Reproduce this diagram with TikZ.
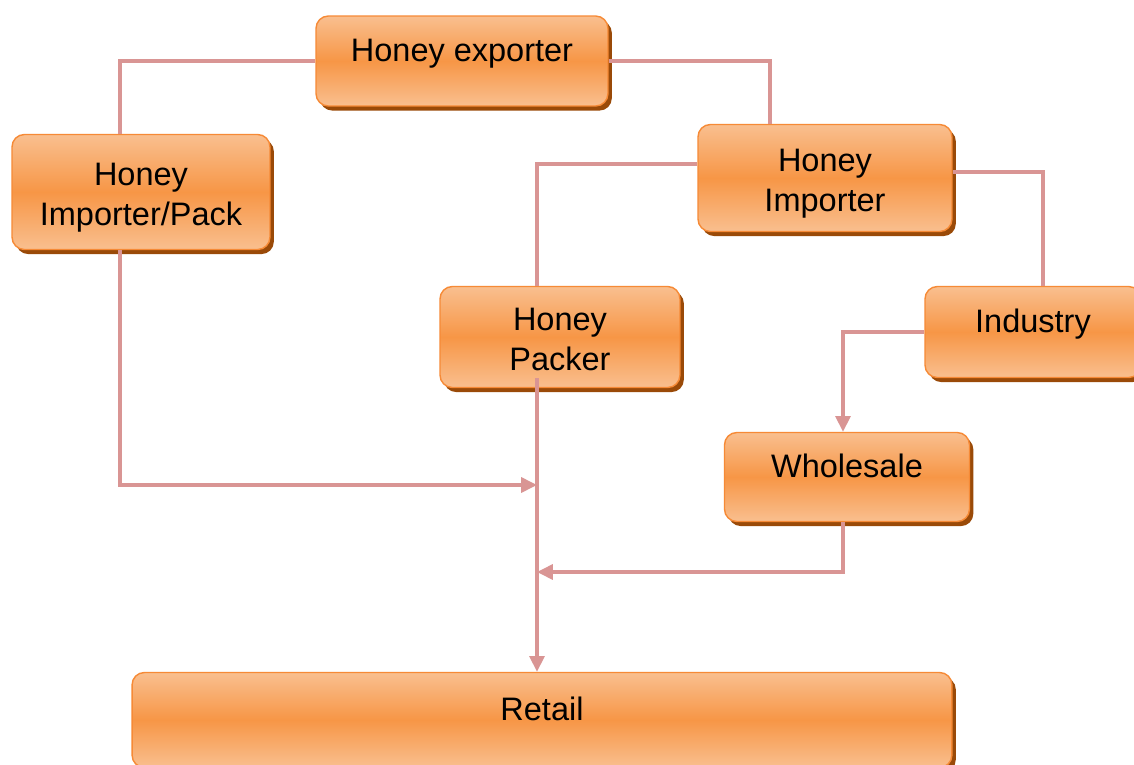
\documentclass[tikz,border=0pt]{standalone}
\usepackage{fontspec}
\setmainfont{Liberation Sans}
\usetikzlibrary{calc}
\usetikzlibrary{shadows}
\usetikzlibrary{arrows.meta}
\definecolor{hnyLight}{HTML}{F9BF8F}
\definecolor{hnyMid}{HTML}{F79646}
\definecolor{hnyEdge}{HTML}{F68A36}
\definecolor{hnyShade}{HTML}{9A4A08}
\definecolor{hnyLink}{HTML}{D99594}

\begin{document}
\begin{tikzpicture}[x=0.02cm, y=-0.02cm,
  stage/.style={draw=hnyEdge, line width=0.8pt, rounded corners=7pt,
    top color=hnyLight, bottom color=hnyLight, middle color=hnyMid,
    drop shadow={fill=hnyShade, opacity=1, shadow xshift=2.2pt, shadow yshift=-2.6pt},
    align=center, inner sep=0pt, font=\fontsize{18.5}{22.5}\selectfont},
  oneline/.style={text height=13pt, text depth=12pt},
  twoline/.style={text height=37.9pt, text depth=0pt},
  link/.style={draw=hnyLink, line width=1.9pt},
  flow/.style={link, -{Triangle[length=9pt, width=8.5pt]}}]
%\draw [help lines] (0,0) grid[step=50] (1134,765);
\fill[white] (0,0) rectangle (1134,765);
\useasboundingbox (0,0) rectangle (1134,765);
\clip (0,0) rectangle (1134,765);

\node[stage, oneline, minimum width=5.84cm, minimum height=1.8cm]  (exp)     at (462,61)  {Honey exporter};
\node[stage, twoline, minimum width=5.16cm, minimum height=2.3cm]  (imppack) at (141,192) {Honey\\Importer/Pack};
\node[stage, twoline, minimum width=5.08cm, minimum height=2.14cm] (imp)     at (825,178) {Honey\\Importer};
\node[stage, twoline, minimum width=4.8cm,  minimum height=2.02cm] (packer)  at (560,337) {Honey\\Packer};
\node[stage, oneline, minimum width=4.32cm, minimum height=1.82cm] (ind)     at (1033,332) {Industry};
\node[stage, oneline, minimum width=4.9cm,  minimum height=1.78cm] (whole)   at (847,477) {Wholesale};
\node[stage, oneline, minimum width=16.4cm, minimum height=1.9cm]  (retail)  at (542,720) {Retail};

\coordinate (meetA) at (537,485);
\coordinate (meetB) at (537,572);

% Edges
\draw[link] (exp.west) -| ($(imppack.north)+(-21,0)$);
\draw[link] (exp.east) -| ($(imp.north)+(-55,0)$);
\draw[link] ($(imp.west)+(0,-14)$) -| ($(packer.north)+(-23,0)$);
\draw[link] ($(imp.east)+(0,-6)$)  -| ($(ind.north)+(10,0)$);
\draw[flow] (ind.west) -| ($(whole.north)+(-4,0)$);
\draw[flow] ($(imppack.south)+(-21,0)$) |- (meetA);
\draw[flow] ($(whole.south)+(-4,0)$) |- (meetB);
\draw[flow] ($(packer.south)+(-23,-10)$) -- ($(retail.north)+(-5,0)$);

\end{tikzpicture}
\end{document}
